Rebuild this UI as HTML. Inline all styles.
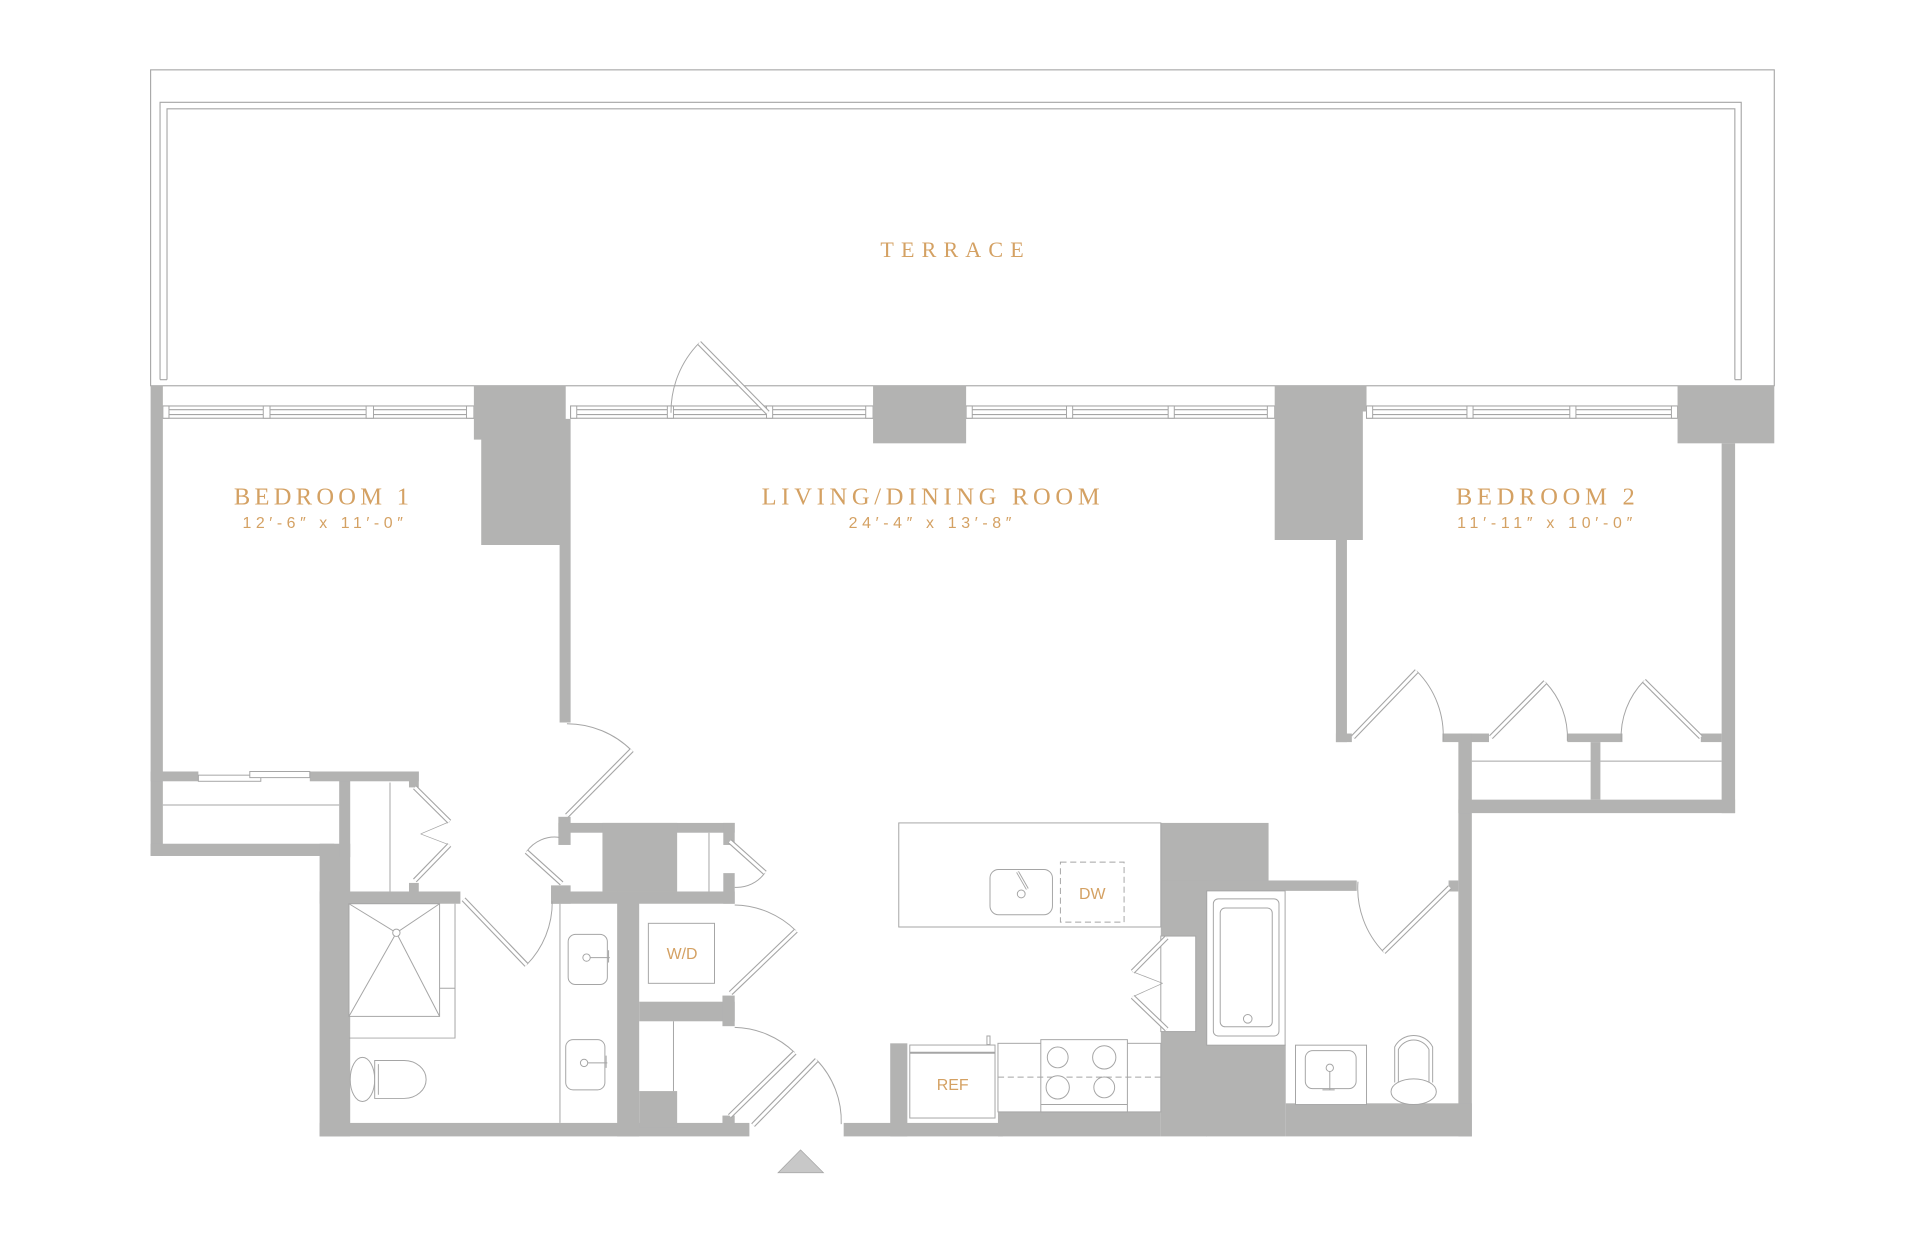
<!DOCTYPE html>
<html><head><meta charset="utf-8"><style>
html,body{margin:0;padding:0;background:#fff;}
svg{display:block;}
</style></head><body>
<svg width="1920" height="1254" viewBox="0 0 1568 1024" xmlns="http://www.w3.org/2000/svg">
<rect width="1568" height="1024" fill="#fff"/>
<g fill="none" stroke="#a5a5a5" stroke-width="0.9">
<rect x="123" y="57" width="1326" height="258"/>
<path d="M130.7,310 V83.5 H1422 V310 M136.4,310 V88.8 H1416.8 V310 M130.7,310 H136.4 M1416.8,310 H1422"/>
<g>
<rect x="133" y="331.5" width="254" height="10"/>
<rect x="466" y="331.5" width="247" height="10"/>
<rect x="789" y="331.5" width="252" height="10"/>
<rect x="1116" y="331.5" width="254" height="10"/>
<path d="M138,334.5 H382 M138,338.5 H382 M470,334.5 H708 M470,338.5 H708 M794,334.5 H1036 M794,338.5 H1036 M1120,334.5 H1365 M1120,338.5 H1365"/>
</g>
</g>
<g fill="#fff" stroke="#a5a5a5" stroke-width="0.8">
<rect x="133" y="331.5" width="5" height="10"/><rect x="215" y="331.5" width="5.5" height="10"/><rect x="299" y="331.5" width="6" height="10"/><rect x="381" y="331.5" width="6" height="10"/>
<rect x="466" y="331.5" width="5" height="10"/><rect x="545" y="331.5" width="5" height="10"/><rect x="626" y="331.5" width="5" height="10"/><rect x="707" y="331.5" width="6" height="10"/>
<rect x="789" y="331.5" width="5" height="10"/><rect x="871" y="331.5" width="5" height="10"/><rect x="954" y="331.5" width="5" height="10"/><rect x="1035" y="331.5" width="6" height="10"/>
<rect x="1116" y="331.5" width="5" height="10"/><rect x="1198" y="331.5" width="5" height="10"/><rect x="1282" y="331.5" width="5" height="10"/><rect x="1365" y="331.5" width="5" height="10"/>
</g>
<g fill="#b3b3b2">
<rect x="123" y="315" width="10" height="384"/>
<rect x="123" y="689" width="150" height="10"/>
<rect x="261" y="689" width="25" height="239"/>
<rect x="277" y="630" width="9" height="70"/>
<rect x="123" y="630" width="39" height="8"/>
<rect x="253" y="630" width="89" height="8"/>
<rect x="334" y="630" width="8" height="13"/>
<rect x="334" y="721" width="8" height="8"/>
<rect x="261" y="728" width="115" height="10"/>
<rect x="261" y="917" width="351" height="11"/>
<polygon points="387,315 462,315 462,342 466,342 466,590 457,590 457,445 393,445 393,359 387,359"/>
<rect x="713" y="315" width="76" height="47"/>
<polygon points="1041,315 1116,315 1116,336 1113,336 1113,441 1100,441 1100,606 1091,606 1091,441 1041,441"/>
<rect x="1091" y="599" width="13" height="7"/>
<rect x="1370" y="315" width="79" height="47"/>
<rect x="1406" y="362" width="11" height="302"/>
<rect x="1178" y="599" width="38" height="7"/>
<rect x="1280" y="599" width="45" height="7"/>
<rect x="1389" y="599" width="17" height="7"/>
<rect x="1191" y="599" width="11" height="329"/>
<rect x="1191" y="653" width="226" height="11"/>
<rect x="1299" y="606" width="8" height="47"/>
<rect x="456" y="667" width="10" height="23"/>
<rect x="456" y="672" width="144" height="8"/>
<rect x="492" y="672" width="61" height="56"/>
<rect x="590.7" y="672" width="9.3" height="18"/>
<rect x="590.7" y="713" width="9.3" height="25"/>
<rect x="450" y="723" width="16" height="15"/>
<rect x="450" y="728" width="150" height="10"/>
<rect x="504" y="728" width="18" height="200"/>
<rect x="522" y="818" width="78" height="16"/>
<rect x="590" y="813" width="10" height="25"/>
<rect x="522" y="891" width="31" height="30"/>
<rect x="590" y="911" width="10" height="8"/>
<rect x="948" y="672" width="88" height="50"/>
<rect x="948" y="719" width="160" height="8.5"/>
<rect x="948" y="719" width="37.5" height="209"/>
<rect x="985" y="853" width="65" height="75"/>
<rect x="1050" y="901" width="152" height="27"/>
<rect x="1183" y="719" width="8" height="9"/>
<rect x="815" y="908" width="133" height="20"/>
<rect x="689" y="917" width="130" height="11"/>
<rect x="727" y="852" width="14" height="76"/>
</g>
<g fill="#fff" stroke="#a5a5a5" stroke-width="0.8">
<rect x="948" y="764.4" width="28.5" height="78"/>
<rect x="985.5" y="727.5" width="64" height="126"/>
<rect x="990.9" y="734" width="53.6" height="112" rx="4"/>
<rect x="996.5" y="741.5" width="42.5" height="97" rx="4"/>
<circle cx="1019" cy="832" r="3.5"/>
<rect x="734" y="672" width="214" height="85"/>
<rect x="808.5" y="710" width="51" height="37" rx="7"/>
<circle cx="834" cy="730" r="3.2"/>
<path d="M831,712 L839,726" stroke-width="2.5"/><path d="M831,712 L839,726" stroke="#fff" stroke-width="1"/>
<rect x="866" y="704" width="52" height="49" stroke-dasharray="5,3"/>
<rect x="815" y="852" width="133" height="56"/>
<rect x="743" y="853.4" width="69.6" height="59.6"/>
<path d="M743,859.7 H812.6" stroke-width="1.6"/>
<rect x="806" y="846" width="2.5" height="7"/>
<rect x="850" y="849" width="70.7" height="59"/>
<path d="M850,902 H920.7"/>
<path d="M815,879.6 H948" stroke-dasharray="5,3"/>
<circle cx="863.8" cy="863.5" r="8.5"/><circle cx="901.8" cy="863.5" r="9.5"/>
<circle cx="863.8" cy="888" r="9.5"/><circle cx="901.8" cy="888" r="8.5"/>
<rect x="1058" y="853.5" width="58" height="48.5"/>
<rect x="1066" y="858" width="41.5" height="31" rx="6"/>
<circle cx="1086" cy="872" r="3"/><path d="M1086,875 V890 M1080,890 H1090"/>
<path d="M1139,884 V855 A17,16 0 0 1 1170,855 V884"/>
<path d="M1142,884 V857 A14,14 0 0 1 1167,857 V884"/>
<ellipse cx="1154.5" cy="891.5" rx="18.5" ry="10.5"/>
<path d="M1202,621.5 H1299 M1307,621.5 H1406" fill="none"/>
<path d="M133,657.4 H277" fill="none"/>
<rect x="162" y="633" width="51" height="5"/>
<rect x="204" y="630" width="49" height="5"/>
<path d="M318.5,639 V728" fill="none"/>
<path d="M579,680 V728 M550,834 V891 M457.3,738 V917" fill="none"/>
<rect x="464" y="763" width="32" height="41" rx="6"/>
<rect x="462" y="849" width="32" height="41" rx="6"/>
<circle cx="479" cy="782" r="3"/><path d="M482,782 H498 M497,776 V786"/>
<circle cx="477" cy="868" r="3"/><path d="M480,868 H496 M495,862 V872"/>
<rect x="529.5" y="754" width="54" height="49"/>
<rect x="285" y="738" width="74" height="92"/>
<path d="M285,738 L323.7,761.7 L359,738 M323.7,761.7 L285,830 M323.7,761.7 L359,830 M371.6,738 V847.7 H285 M359,807 H371.6" fill="none"/>
<circle cx="323.7" cy="761.7" r="3"/>
<ellipse cx="296" cy="881.5" rx="10" ry="18"/>
<path d="M306,866 H330 A18,15.5 0 0 1 330,897 H306 Z"/>
<path d="M309,869 V894" fill="none"/>
</g>
<g fill="none" stroke="#a5a5a5" stroke-width="0.8">
<path d="M548,337 A80,80 0 0 1 571,280"/>
<path d="M463,591 A75,75 0 0 1 516,613"/>
<path d="M1157,548 A74,74 0 0 1 1178.5,605"/>
<path d="M1262,557 A65,65 0 0 1 1280,605"/>
<path d="M1342.6,556 A65,65 0 0 0 1324,605"/>
<path d="M1130,777.5 A75,75 0 0 1 1109,720"/>
<path d="M667,865.6 A72,72 0 0 1 687,918"/>
<path d="M649,859.6 A73,73 0 0 0 600,839"/>
<path d="M650,760 A73,73 0 0 0 600,739"/>
<path d="M624.7,712.7 A28,28 0 0 1 600,724.6"/>
<path d="M430,695.5 A28,28 0 0 1 456.8,683.8"/>
<path d="M451,736 A73,73 0 0 1 430,788"/>
<path d="M952.8,765.5 L925,793.5 L949.5,803 M925,814 L949.5,803" stroke-width="0.6"/>
<path d="M338.8,643 L367,671 L343.5,681 M367,690 L343.5,681" stroke-width="0.6"/>
</g>
<g fill="none" stroke-linecap="butt">
<g stroke="#a5a5a5" stroke-width="4.2">
<path d="M627,337 L571,280"/><path d="M463,666 L516,612.5"/>
<path d="M1105,602 L1157,548"/><path d="M1217.6,602 L1262,557"/><path d="M1389,602 L1342.6,556"/>
<path d="M1184,724.5 L1130,777.5"/><path d="M615,918.8 L667,865.6"/><path d="M596,911.4 L649,859.6"/>
<path d="M596.7,811 L650,760"/><path d="M596,687 L624.7,712.7"/><path d="M458.7,721.4 L430,695.5"/>
<path d="M378.6,734.4 L430,788"/>
<path d="M952.8,765.5 L925,793.5"/><path d="M925,814 L952.8,840.6"/>
<path d="M338.8,643 L367,671"/><path d="M367,690 L338.8,719"/>
</g>
<g stroke="#fff" stroke-width="2.4">
<path d="M627,337 L571,280"/><path d="M463,666 L516,612.5"/>
<path d="M1105,602 L1157,548"/><path d="M1217.6,602 L1262,557"/><path d="M1389,602 L1342.6,556"/>
<path d="M1184,724.5 L1130,777.5"/><path d="M615,918.8 L667,865.6"/><path d="M596,911.4 L649,859.6"/>
<path d="M596.7,811 L650,760"/><path d="M596,687 L624.7,712.7"/><path d="M458.7,721.4 L430,695.5"/>
<path d="M378.6,734.4 L430,788"/>
<path d="M952.8,765.5 L925,793.5"/><path d="M925,814 L952.8,840.6"/>
<path d="M338.8,643 L367,671"/><path d="M367,690 L338.8,719"/>
</g>
</g>
<polygon points="635.4,957.7 672.5,957.7 653.8,939" fill="#c8c8c8" stroke="#a5a5a5" stroke-width="0.6"/>
<g fill="#d4a163" font-family="'Liberation Serif', serif">
<text x="719" y="210" font-size="18" textLength="117" lengthAdjust="spacing">TERRACE</text>
<text x="191" y="412" font-size="20" textLength="143" lengthAdjust="spacing">BEDROOM 1</text>
<text x="622" y="412" font-size="20" textLength="276" lengthAdjust="spacing">LIVING/DINING ROOM</text>
<text x="1189" y="412" font-size="20" textLength="146" lengthAdjust="spacing">BEDROOM 2</text>
</g>
<g fill="#d4a163" font-family="'Liberation Sans', sans-serif" font-size="13">
<text x="198" y="431" textLength="131" lengthAdjust="spacing">12′-6″ x 11′-0″</text>
<text x="693" y="431" textLength="133" lengthAdjust="spacing">24′-4″ x 13′-8″</text>
<text x="1190" y="431" textLength="143" lengthAdjust="spacing">11′-11″ x 10′-0″</text>
<text x="557" y="783" text-anchor="middle" font-size="13">W/D</text>
<text x="892" y="734" text-anchor="middle" font-size="13">DW</text>
<text x="778" y="890" text-anchor="middle" font-size="13">REF</text>
</g>
</svg>
</body></html>
